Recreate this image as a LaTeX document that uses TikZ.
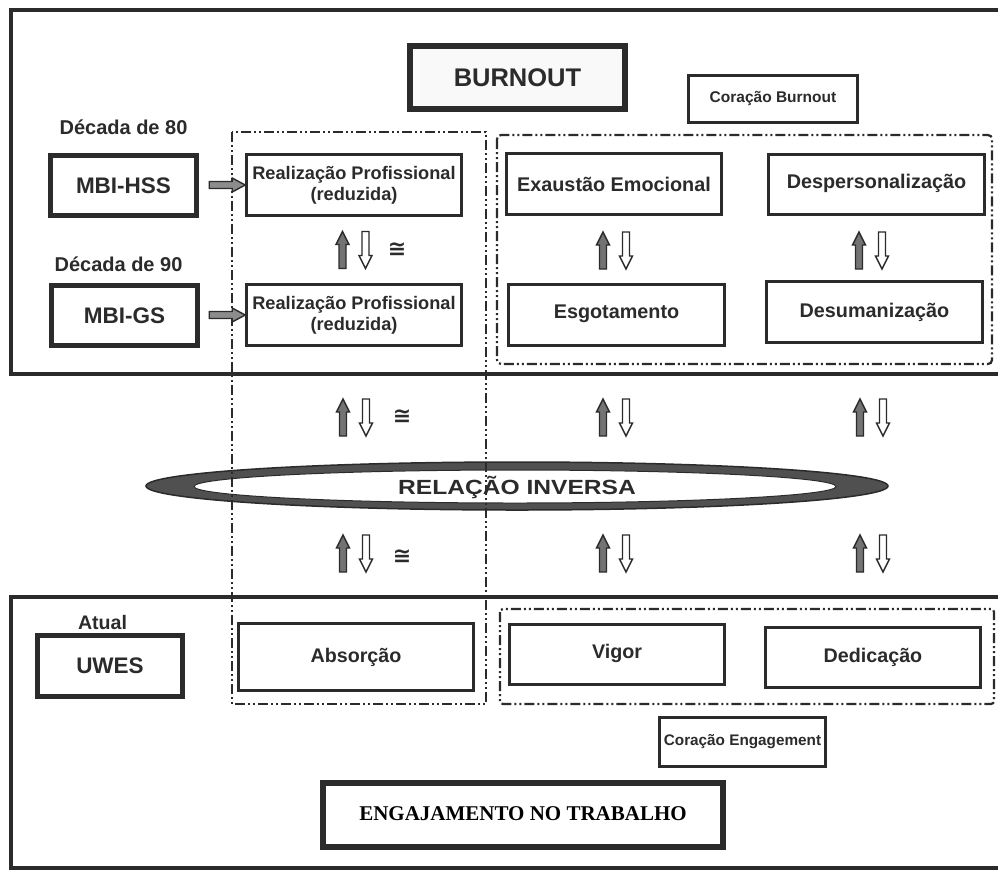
\documentclass[tikz,border=0pt]{standalone}
\usepackage{fontspec}
\setmainfont{Liberation Sans}
\newfontfamily\serifbf{Liberation Serif}
\newfontfamily\symfont{DejaVu Sans}
\usetikzlibrary{calc}
\definecolor{ink}{HTML}{2B2B2B}
\definecolor{ringgray}{HTML}{505050}
\newcommand{\fsz}[1]{\fontsize{#1}{#1}\selectfont\bfseries}
\begin{document}
\begin{tikzpicture}[x=1pt,y=-1pt,
  box/.style={draw=ink, line width=2.6pt, fill=white, inner sep=0pt, align=center, text=ink},
  heavy/.style={box, line width=4.6pt},
  dashbox/.style={draw=ink, line width=2.2pt, dash pattern=on 10pt off 3pt on 2pt off 3pt on 2pt off 3pt},
  frame/.style={draw=ink, line width=3.6pt},
  lbl/.style={text=ink, inner sep=0pt},
  cong/.style={lbl, font=\symfont\fontsize{22}{22}\selectfont\bfseries},
  updown/.pic={
    \filldraw[fill=black!55, draw=ink, line width=1.4pt]
      (-11.5,-18.5) -- (-5,-5.5) -- (-8,-5.5) -- (-8,18.5) -- (-15,18.5) -- (-15,-5.5) -- (-18,-5.5) -- cycle;
    \filldraw[fill=white, draw=ink, line width=1.4pt]
      (11.5,18.5) -- (18,5.5) -- (15,5.5) -- (15,-18.5) -- (8,-18.5) -- (8,5.5) -- (5,5.5) -- cycle;
  },
  harrow/.pic={
    \filldraw[fill=black!45, draw=ink, line width=1.4pt]
      (0,0) -- (-13,-7) -- (-13,-3.5) -- (-36,-3.5) -- (-36,3.5) -- (-13,3.5) -- (-13,7) -- cycle;
  }]
\useasboundingbox (0,0) rectangle (998,871);

% outer frames (open on the right)
\draw[frame] (1002,10) -- (11,10) -- (11,374) -- (1002,374);
\draw[frame] (1002,597) -- (11,597) -- (11,868) -- (1002,868);

% ellipse of inverse relation
\filldraw[fill=ringgray, draw=ink, line width=1.5pt] (517,486) ellipse [x radius=371, y radius=24];
\filldraw[fill=white, draw=ink, line width=1pt] (515,486.5) ellipse [x radius=321, y radius=16.5];
\node[lbl, font=\fsz{20.5}] (rel) at (517,487) {\scalebox{1.2}[1]{RELAÇÃO INVERSA}};

% dash-dot groupings
\draw[dashbox] (232,132) rectangle (486,704);
\draw[dashbox, rounded corners=4pt] (497,135) rectangle (992,364);
\draw[dashbox, rounded corners=3pt] (500,609) rectangle (994,704);

% burnout part
\node[box, line width=5.5pt, fill=gray!5, minimum width=215pt, minimum height=63pt, font=\fsz{25.5}] (burnout) at (517.5,77.5) {BURNOUT};
\node[box, minimum width=169pt, minimum height=47pt, font=\fsz{15.5}] (corb) at (773,99) {Coração Burnout};

\node[lbl, font=\fsz{20}] (dec80) at (123.5,127) {Década de 80};
\node[lbl, font=\fsz{20}] (dec90) at (118.5,264) {Década de 90};
\node[heavy, minimum width=146pt, minimum height=60pt, font=\fsz{22.5}] (mbi1) at (123.5,185.5) {MBI-HSS};
\node[heavy, minimum width=146pt, minimum height=60pt, font=\fsz{22.5}] (mbi2) at (124.5,315.5) {MBI-GS};

\node[box, minimum width=215pt, minimum height=61pt, font=\fsz{18.2}] (rp1) at (354,185) {Realização Profissional\\[3pt](reduzida)};
\node[box, minimum width=215pt, minimum height=61pt, font=\fsz{18.2}] (rp2) at (354,315) {Realização Profissional\\[3pt](reduzida)};

\node[box, minimum width=215pt, minimum height=61pt, font=\fsz{19.8}] (ee) at (614,184) {Exaustão Emocional};
\node[box, minimum width=216pt, minimum height=60pt, font=\fsz{19.8}] (dp) at (876.5,184.5) {\raisebox{6pt}{Despersonalização}};
\node[box, minimum width=216pt, minimum height=61pt, font=\fsz{19.8}] (esg) at (616.5,315) {\raisebox{7pt}{Esgotamento}};
\node[box, minimum width=216pt, minimum height=61pt, font=\fsz{19.8}] (des) at (874.5,312) {Desumanização};

\pic at (rp1.west) {harrow};
\pic at (rp2.west) {harrow};

% paired arrows
\pic at ($(rp1.south)!0.5!(rp2.north)$) {updown};
\node[cong] (c1) at (397,250) {≅};
\pic at (614.5,250.5) {updown};
\pic at (870.5,250.5) {updown};

\pic at (354.5,417.5) {updown};
\node[cong] (c2) at (402,417) {≅};
\pic at (614.5,417.5) {updown};
\pic at (871.5,417.5) {updown};

\pic at (354.5,553.5) {updown};
\node[cong] (c3) at (402,557) {≅};
\pic at (614.5,553.5) {updown};
\pic at (871.5,553.5) {updown};

% engagement part
\node[lbl, font=\fsz{19.6}] (atual) at (102.5,622) {Atual};
\node[heavy, minimum width=145pt, minimum height=61pt, font=\fsz{22.5}] (uwes) at (110,666) {UWES};
\node[box, minimum width=235pt, minimum height=67pt, font=\fsz{19.7}] (abs) at (356,657) {Absorção};
\node[box, minimum width=215pt, minimum height=60pt, font=\fsz{19.7}] (vig) at (617,654.5) {\raisebox{6.5pt}{Vigor}};
\node[box, minimum width=215pt, minimum height=60pt, font=\fsz{19.7}] (ded) at (873,657.5) {Dedicação};
\node[box, minimum width=166pt, minimum height=49pt, font=\fsz{15.3}] (coreng) at (742.5,742) {Coração Engagement};
\node[box, line width=6pt, minimum width=400pt, minimum height=64pt, font=\serifbf\fontsize{21}{21}\selectfont\bfseries, text=black] (eng) at (523,815) {\raisebox{2pt}{ENGAJAMENTO NO TRABALHO}};
\end{tikzpicture}
\end{document}
